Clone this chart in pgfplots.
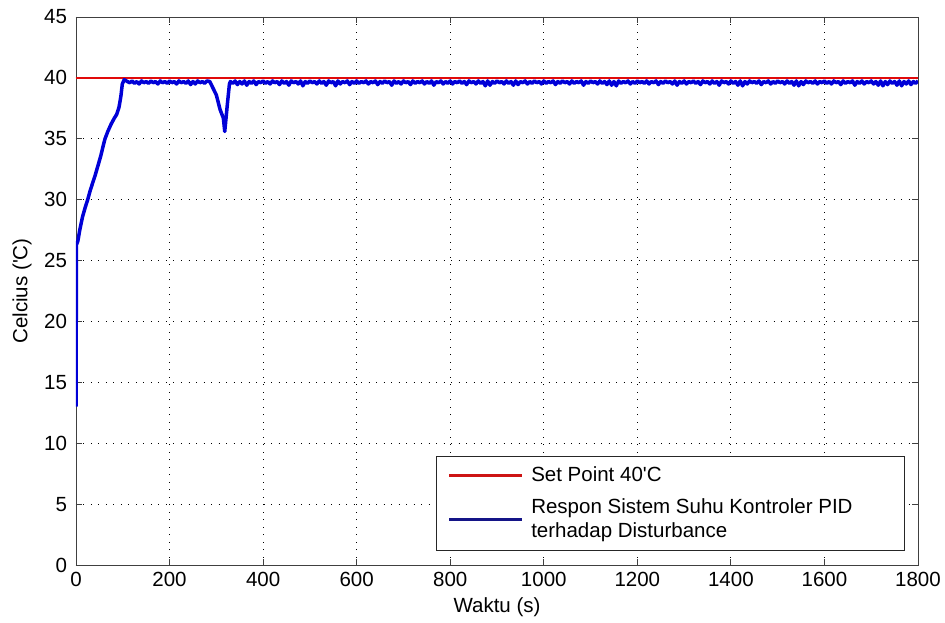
\documentclass[border=0pt]{standalone}
\usepackage{fontspec}
\setmainfont{Liberation Sans}
\usepackage{pgfplots}
\pgfplotsset{compat=1.18}
\definecolor{spred}{RGB}{225,10,10}
\definecolor{respblue}{RGB}{0,0,215}
\definecolor{legred}{RGB}{205,20,20}
\definecolor{legblue}{RGB}{20,20,135}
\begin{document}
\fontsize{20.5}{24}\selectfont
\begin{tikzpicture}
\useasboundingbox (-76pt,-57pt) rectangle (869pt,565pt);
\begin{axis}[
  at={(0pt,0pt)}, anchor=south west,
  scale only axis, width=842pt, height=548pt,
  xmin=0, xmax=1800, ymin=0, ymax=45,
  xtick={0,200,...,1800}, ytick={0,5,...,45},
  /pgf/number format/assume math mode=true,
  /pgf/number format/1000 sep={},
  scaled ticks=false,
  tick align=inside, major tick length=6pt,
  axis line style={black!75, line width=0.9pt},
  tick style={black!75, line width=0.8pt},
  grid=major,
  major grid style={black, line width=0.8pt, dash pattern=on 0.9pt off 6.6pt},
  yticklabel style={xshift=-2pt},
  xlabel={Waktu (s)}, ylabel={Celcius (\textquotesingle C)},
  xlabel style={at={(axis description cs:0.5,-0.0766)}, anchor=center},
  ylabel style={at={(axis description cs:-0.0641,0.5)}, anchor=center},
  legend style={at={(0.9846,0.0292)}, anchor=south east, yshift=-2pt, draw=black!85,
    line width=0.9pt, fill=white, inner xsep=11pt, inner ysep=8pt, row sep=10pt,
    column sep=6pt, cells={anchor=west, align=left}},
  legend image code/.code={\draw[#1] (0pt,0pt) -- (73pt,0pt);},
]
% set point
\addplot[spred, line width=1.6pt, forget plot] coordinates {(0,40) (1800,40)};
% measured temperature with disturbance around t = 300 s
\addplot[respblue, line width=3.5pt, line join=round, forget plot] coordinates {
(0,13)(1,26.3)(4,26.6)(8,27.5)(14,28.6)(20,29.4)(25,30)(30,30.7)(35,31.3)(41,32)
(47,32.8)(53,33.6)(58,34.4)(62,35)(68,35.6)(75,36.2)(82,36.7)(87,37)(92,37.6)(96,38.5)
(99,39.5)(103,39.85)
(110,39.7)(115,39.6)(120,39.75)(125,39.55)(130,39.7)(135,39.5)(140,39.75)(145,39.6)(150,39.7)(155,39.55)
(160,39.75)(165,39.6)(170,39.7)(175,39.5)(180,39.75)(185,39.6)(190,39.7)(195,39.55)(200,39.75)(205,39.6)
(210,39.7)(215,39.5)(220,39.75)(225,39.6)(230,39.7)(235,39.55)(240,39.75)(245,39.45)(250,39.7)(255,39.5)
(260,39.75)(265,39.6)(270,39.7)(275,39.55)(280,39.75)
(286,39.7)(300,38.6)(308,37.4)(315,36.7)(318,35.6)(321,36.8)(324,38.0)(328,39.5)
(330,39.7)(335,39.55)(340,39.75)(345,39.45)(350,39.7)(355,39.5)(360,39.75)(365,39.4)(370,39.7)(375,39.55)
(380,39.75)(385,39.45)(390,39.7)(395,39.6)
(400,39.75)(405,39.55)(410,39.7)(415,39.5)(420,39.75)(425,39.6)(430,39.7)(435,39.45)(440,39.75)(445,39.55)
(450,39.7)(455,39.4)(460,39.75)(465,39.6)(470,39.7)(475,39.5)(480,39.75)(485,39.35)(490,39.7)(495,39.55)
(500,39.75)(505,39.6)(510,39.7)(515,39.5)(520,39.75)(525,39.55)(530,39.7)(535,39.4)(540,39.75)(545,39.6)
(550,39.7)(555,39.35)(560,39.75)(565,39.5)(570,39.7)(575,39.6)(580,39.75)(585,39.45)(590,39.7)(595,39.55)
(600,39.75)(605,39.55)(610,39.7)(615,39.6)(620,39.75)(625,39.5)(630,39.7)(635,39.6)(640,39.75)(645,39.45)
(650,39.7)(655,39.55)(660,39.75)(665,39.6)(670,39.7)(675,39.4)(680,39.75)(685,39.55)(690,39.7)(695,39.5)
(700,39.75)(705,39.6)(710,39.7)(715,39.45)(720,39.75)(725,39.55)(730,39.7)(735,39.6)(740,39.75)(745,39.5)
(750,39.7)(755,39.55)(760,39.75)(765,39.4)(770,39.7)(775,39.6)(780,39.75)(785,39.5)(790,39.7)(795,39.55)
(800,39.75)(805,39.5)(810,39.7)(815,39.6)(820,39.75)(825,39.55)(830,39.7)(835,39.45)(840,39.75)(845,39.6)
(850,39.7)(855,39.5)(860,39.75)(865,39.55)(870,39.7)(875,39.35)(880,39.75)(885,39.4)(890,39.7)(895,39.55)
(900,39.75)(905,39.6)(910,39.7)(915,39.5)(920,39.75)(925,39.55)(930,39.7)(935,39.4)(940,39.75)(945,39.45)
(950,39.7)(955,39.6)(960,39.75)(965,39.5)(970,39.7)(975,39.55)(980,39.75)(985,39.6)(990,39.7)(995,39.5)
(1000,39.75)(1005,39.55)(1010,39.7)(1015,39.6)(1020,39.75)(1025,39.45)(1030,39.7)(1035,39.55)(1040,39.75)(1045,39.6)
(1050,39.7)(1055,39.5)(1060,39.75)(1065,39.55)(1070,39.7)(1075,39.6)(1080,39.75)(1085,39.4)(1090,39.7)(1095,39.55)
(1100,39.75)(1105,39.6)(1110,39.7)(1115,39.5)(1120,39.75)(1125,39.55)(1130,39.7)(1135,39.45)(1140,39.75)(1145,39.4)
(1150,39.7)(1155,39.35)(1160,39.75)(1165,39.55)(1170,39.7)(1175,39.6)(1180,39.75)(1185,39.5)(1190,39.7)(1195,39.55)
(1200,39.75)(1205,39.6)(1210,39.7)(1215,39.55)(1220,39.75)(1225,39.5)(1230,39.7)(1235,39.6)(1240,39.75)(1245,39.45)
(1250,39.7)(1255,39.55)(1260,39.75)(1265,39.6)(1270,39.7)(1275,39.5)(1280,39.75)(1285,39.4)(1290,39.7)(1295,39.55)
(1300,39.75)(1305,39.5)(1310,39.7)(1315,39.6)(1320,39.75)(1325,39.55)(1330,39.7)(1335,39.45)(1340,39.75)(1345,39.6)
(1350,39.7)(1355,39.5)(1360,39.75)(1365,39.55)(1370,39.7)(1375,39.4)(1380,39.75)(1385,39.6)(1390,39.7)(1395,39.5)
(1400,39.75)(1405,39.55)(1410,39.7)(1415,39.4)(1420,39.75)(1425,39.35)(1430,39.7)(1435,39.5)(1440,39.75)(1445,39.6)
(1450,39.7)(1455,39.55)(1460,39.75)(1465,39.45)(1470,39.7)(1475,39.6)(1480,39.75)(1485,39.5)(1490,39.7)(1495,39.55)
(1500,39.75)(1505,39.6)(1510,39.7)(1515,39.5)(1520,39.75)(1525,39.55)(1530,39.7)(1535,39.4)(1540,39.75)(1545,39.35)
(1550,39.7)(1555,39.45)(1560,39.75)(1565,39.6)(1570,39.7)(1575,39.55)(1580,39.75)(1585,39.5)(1590,39.7)(1595,39.6)
(1600,39.75)(1605,39.55)(1610,39.7)(1615,39.5)(1620,39.75)(1625,39.6)(1630,39.7)(1635,39.45)(1640,39.75)(1645,39.55)
(1650,39.7)(1655,39.6)(1660,39.75)(1665,39.4)(1670,39.7)(1675,39.55)(1680,39.75)(1685,39.5)(1690,39.7)(1695,39.6)
(1700,39.75)(1705,39.5)(1710,39.7)(1715,39.4)(1720,39.75)(1725,39.35)(1730,39.7)(1735,39.45)(1740,39.75)(1745,39.55)
(1750,39.7)(1755,39.4)(1760,39.75)(1765,39.35)(1770,39.7)(1775,39.5)(1780,39.75)(1785,39.45)(1790,39.7)(1795,39.55)
(1800,39.75)
};
\addlegendimage{legred, line width=2.4pt}
\addlegendentry{Set Point 40\textquotesingle C}
\addlegendimage{legblue, line width=2.4pt}
\addlegendentry{Respon Sistem Suhu Kontroler PID\hspace*{39pt}\\terhadap Disturbance}
\end{axis}
\end{tikzpicture}
\end{document}
